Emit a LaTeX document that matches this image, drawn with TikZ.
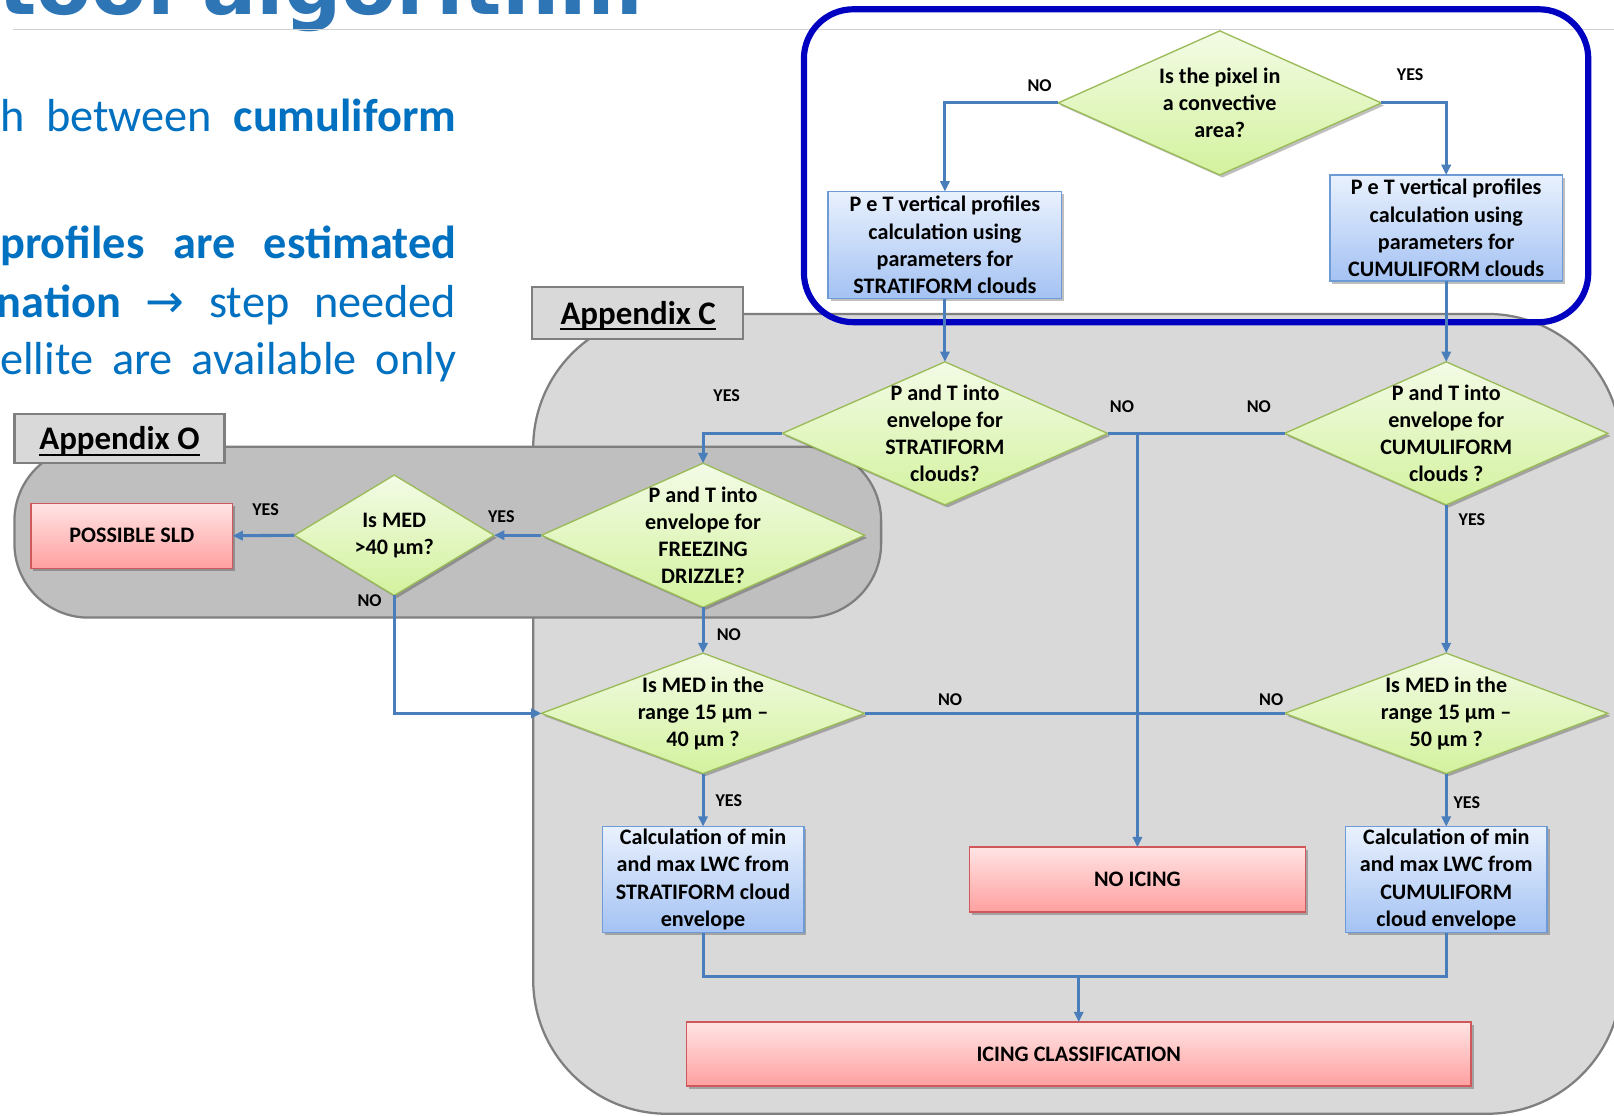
\documentclass[tikz,border=0pt]{standalone}
\usepackage{fontspec}
\setmainfont{Carlito}
\newfontfamily\titlefont{DejaVu Sans}
\newfontfamily\symfont{DejaVu Sans}
\usetikzlibrary{shapes.geometric,arrows.meta,shadows,calc}

\definecolor{slideblue}{HTML}{0070C0}
\definecolor{titleblue}{HTML}{2E75B6}
\definecolor{linkblue}{HTML}{4A7EBB}
\definecolor{frameblue}{HTML}{0000C0}
\definecolor{regionC}{HTML}{D9D9D9}
\definecolor{regionO}{HTML}{BFBFBF}
\definecolor{regionedge}{HTML}{7F7F7F}
\definecolor{diaTop}{HTML}{F3FBE6}
\definecolor{diaBot}{HTML}{D3F29E}
\definecolor{diaEdge}{HTML}{9BBB59}
\definecolor{boxTop}{HTML}{E9F1FD}
\definecolor{boxBot}{HTML}{A4C2F3}
\definecolor{boxEdge}{HTML}{6E9AD6}
\definecolor{redTop}{HTML}{FFE4E4}
\definecolor{redBot}{HTML}{FFA0A0}
\definecolor{redEdge}{HTML}{D0585A}

\tikzset{
  softshadow/.style={drop shadow={shadow xshift=2.5pt,shadow yshift=-2.5pt,opacity=0.25,fill=black}},
  decision/.style={diamond, draw=diaEdge, line width=1.3pt, top color=diaTop, bottom color=diaBot,
    inner sep=0pt, outer sep=0pt, minimum width=314pt, minimum height=140pt, softshadow},
  process/.style={rectangle, draw=boxEdge, line width=1.3pt, top color=boxTop, bottom color=boxBot,
    inner sep=0pt, outer sep=0pt, align=center, softshadow,
    font=\fontsize{21.5}{26.5}\selectfont\bfseries},
  outcome/.style={rectangle, draw=redEdge, line width=1.3pt, top color=redTop, bottom color=redBot,
    inner sep=0pt, outer sep=0pt, align=center, softshadow,
    font=\fontsize{21.5}{26.5}\selectfont\bfseries},
  dtext/.style={inner sep=0pt, align=center, font=\fontsize{21.5}{26.5}\selectfont\bfseries},
  lbl/.style={inner sep=0pt, font=\fontsize{17.5}{20}\selectfont\bfseries},
  link/.style={draw=linkblue, line width=3pt},
  arr/.style={link, -{Triangle[length=10pt,width=9pt]}},
  tabbox/.style={rectangle, draw=regionedge, fill=regionC, line width=2.2pt, inner sep=0pt},
  tabtext/.style={inner sep=0pt, anchor=base, font=\fontsize{32}{38}\selectfont\bfseries},
  bodyline/.style={inner sep=0pt, anchor=base west, text=slideblue, font=\fontsize{45}{54}\selectfont},
}

\begin{document}
\begin{tikzpicture}[x=1pt,y=1pt]
\useasboundingbox (0,0) rectangle (1568,-1084);
\fill[white] (0,0) rectangle (1568,-1084);

% slide title and rule
\node[inner sep=0pt, anchor=base east, text=titleblue, font=\titlefont\bfseries\fontsize{78}{84}\selectfont]
  (title) at (625,-14.5) {tool algorithm};
\draw[draw=black!18, line width=1.2pt] (13,-28.5) -- (1568,-28.5);

% body text
\node[bodyline] (body1) at (0,-128) {\hbox to 443pt{h\hfill between\hfill\textbf{cumuliform}}};
\node[bodyline] (body2) at (0,-251) {\hbox to 443pt{\textbf{profiles\hfill are\hfill estimated}}};
\node[bodyline] (body3) at (0,-308) {\hbox to 443pt{\hss\textbf{nation}\hskip 24pt{\symfont →}\hskip 24pt step\hskip 24pt needed}};
\node[bodyline] (body4) at (0,-364) {\hbox to 443pt{ellite\hfill are\hfill available\hfill only}};

% appendix regions
\draw[fill=regionC, draw=regionedge, line width=2.2pt, rounded corners=130pt] (518,-305) rectangle (1575,-1082);
\node[tabbox, minimum width=205pt, minimum height=50pt] (tabC) at (619.5,-304) {};
\node[tabtext] (tabCtxt) at (620,-315) {Appendix C};
\draw[line width=1.8pt] ([yshift=-5pt]tabCtxt.base west) -- ([yshift=-5pt]tabCtxt.base east);

\draw[fill=regionO, draw=regionedge, line width=2.2pt, rounded corners=72pt] (14,-434) rectangle (856,-600);
\node[tabbox, minimum width=204pt, minimum height=48pt] (tabO) at (116,-426) {};
\node[tabtext] (tabOtxt) at (116,-437) {Appendix O};
\draw[line width=1.8pt] ([yshift=-5pt]tabOtxt.base west) -- ([yshift=-5pt]tabOtxt.base east);

% highlighted top section
\draw[draw=frameblue, line width=6pt, rounded corners=48pt] (781,-9) rectangle (1543,-313);

% decisions
\node[decision] (d0) at (1185,-100) {};
\node[dtext] (d0t) at (d0) {Is the pixel in\\a convective\\area?};
\node[decision, minimum width=316pt, minimum height=139pt] (dS) at (918,-421) {};
\node[dtext] (dSt) at (dS) {P and T into\\envelope for\\STRATIFORM\\clouds?};
\node[decision, minimum height=139pt] (dC) at (1405,-421) {};
\node[dtext] (dCt) at (dC) {P and T into\\envelope for\\CUMULIFORM\\clouds ?};
\node[decision] (dF) at (683,-520) {};
\node[dtext] (dFt) at (dF) {P and T into\\envelope for\\FREEZING\\DRIZZLE?};
\node[decision, minimum width=194pt, minimum height=117pt] (dM) at (383,-520) {};
\node[dtext] (dMt) at (dM) {Is MED\\>40 µm?};
\node[decision, minimum height=117pt] (dL) at (683,-693) {};
\node[dtext] (dLt) at (dL) {Is MED in the\\range 15 µm –\\40 µm ?};
\node[decision, minimum height=117pt] (dR) at (1405,-693) {};
\node[dtext] (dRt) at (dR) {Is MED in the\\range 15 µm –\\50 µm ?};

% processes and outcomes
\node[process, minimum width=227pt, minimum height=104pt] (pS) at (918,-238)
  {P e T vertical profiles\\calculation using\\parameters for\\STRATIFORM clouds};
\node[process, minimum width=226pt, minimum height=103pt] (pC) at (1405,-221.5)
  {P e T vertical profiles\\calculation using\\parameters for\\CUMULIFORM clouds};
\node[process, minimum width=196pt, minimum height=103pt] (lwcS) at (683,-854.5)
  {Calculation of min\\and max LWC from\\STRATIFORM cloud\\envelope};
\node[process, minimum width=196pt, minimum height=103pt] (lwcC) at (1405,-854.5)
  {Calculation of min\\and max LWC from\\CUMULIFORM\\cloud envelope};
\node[outcome, minimum width=196pt, minimum height=63pt] (sld) at (128,-520.5) {POSSIBLE SLD};
\node[outcome, minimum width=326pt, minimum height=63pt] (noice) at (1105,-854.5) {NO ICING};
\node[outcome, minimum width=762pt, minimum height=62pt] (icing) at (1048,-1024) {ICING CLASSIFICATION};
\coordinate (merge) at (1048,-949);

% connectors
\draw[arr] (d0.west) -| (pS.north);
\draw[arr] (d0.east) -| (pC.north);
\draw[arr] (pS.south) -- (dS.north);
\draw[arr] (pC.south) -- (dC.north);
\draw[arr] (dS.west) -| (dF.north);
\draw[link] (dS.east) -- (dC.west);
\draw[arr] (noice.north |- dS.east) -- (noice.north);
\draw[arr] (dC.south) -- (dR.north);
\draw[arr] (dF.west) -- (dM.east);
\draw[arr] (dM.west) -- (sld.east);
\draw[arr] (dM.south) |- (dL.west);
\draw[arr] (dF.south) -- (dL.north);
\draw[link] (dL.east) -- (dR.west);
\draw[arr] (dL.south) -- (lwcS.north);
\draw[arr] (dR.south) -- (lwcC.north);
\draw[link] (lwcS.south) |- (merge) -| (lwcC.south);
\draw[arr] (merge) -- (icing.north);

% branch labels
\node[lbl] (l1) at (1010,-83) {NO};
\node[lbl] (l2) at (1370,-73) {YES};
\node[lbl] (l3) at (706,-384) {YES};
\node[lbl] (l4) at (1090,-395) {NO};
\node[lbl] (l5) at (1223,-395) {NO};
\node[lbl] (l6) at (1430,-505) {YES};
\node[lbl] (l7) at (258,-495) {YES};
\node[lbl] (l8) at (487,-502) {YES};
\node[lbl] (l9) at (359,-584) {NO};
\node[lbl] (l10) at (708,-617) {NO};
\node[lbl] (l11) at (923,-680) {NO};
\node[lbl] (l12) at (1235,-680) {NO};
\node[lbl] (l13) at (708,-778) {YES};
\node[lbl] (l14) at (1425,-780) {YES};
\end{tikzpicture}
\end{document}
